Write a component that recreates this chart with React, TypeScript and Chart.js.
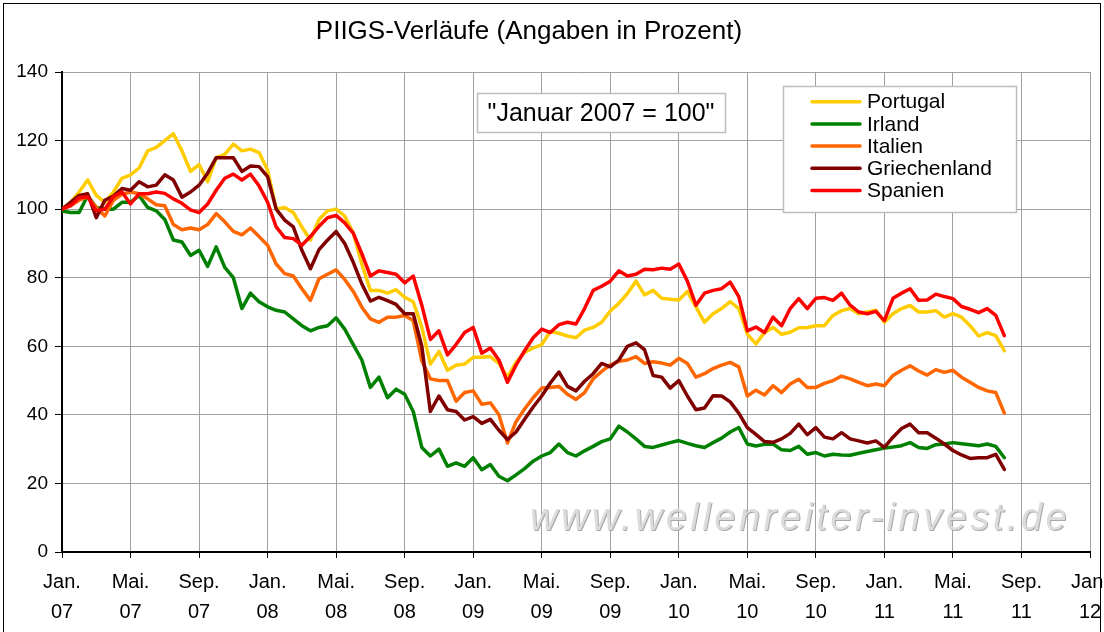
import React, { useEffect, useRef } from "react";
import { Chart, registerables } from "chart.js";

Chart.register(...registerables);

const FONT = '"Liberation Sans", Arial, Helvetica, sans-serif';

// Semi-monthly samples starting January 2007 (index 0 = Jan 2007 = 100)
const portugal: number[] = [
  100, 102, 105, 108.5, 104, 102, 105, 109, 110, 112,
  117, 118, 120, 122, 117, 111, 113, 108, 115, 116,
  119, 117, 117.5, 116.5, 111.4, 100, 100.5, 99, 94.8, 91,
  97, 99.5, 100, 98, 93, 84, 76.3, 76.3, 75.5, 76.5,
  74.3, 73, 65.6, 54.8, 58.5, 53, 54.5, 54.8, 56.8, 56.8,
  57, 55, 51, 55.3, 58.2, 59.5, 60.5, 64.3, 63.8, 63,
  62.5, 64.7, 65.5, 67, 70.3, 72.5, 75.4, 79, 75, 76.3,
  74, 73.7, 73.5, 76, 71.5, 67, 69.5, 71, 73, 71,
  63.5, 60.7, 64, 65.5, 63.5, 64.1, 65.4, 65.5, 66, 66,
  69, 70.4, 71, 69.5, 70, 70.5, 67, 69.5, 71, 71.9,
  70, 70, 70.4, 68.5, 69.5, 68.5, 66, 63, 64, 63.1,
  58.7,
];

const irland: number[] = [
  99.5, 99, 99, 104, 100.5, 100, 100, 102, 102, 104,
  100.5, 99.5, 97, 91, 90.4, 86.5, 88, 83.3, 89, 83,
  80, 71, 75.5, 73, 71.5, 70.5, 70, 68, 66, 64.5,
  65.5, 66, 68.3, 65, 60.5, 56, 48, 51, 45, 47.5,
  46, 41, 30.5, 28, 30, 25, 26, 25, 27.5, 24,
  25.5, 22.1, 20.8, 22.5, 24.3, 26.5, 28, 29, 31.5, 29,
  28, 29.5, 30.8, 32.2, 33, 36.7, 35, 33, 30.8, 30.5,
  31.2, 31.9, 32.5, 31.7, 31, 30.5, 31.9, 33.2, 35, 36.3,
  31.5, 30.9, 31.4, 31.5, 29.8, 29.6, 30.8, 28.5, 29, 28,
  28.5, 28.3, 28.2, 28.8, 29.3, 29.8, 30.3, 30.6, 31, 31.9,
  30.5, 30.2, 31.3, 31.5, 31.9, 31.6, 31.3, 31, 31.5, 30.8,
  27.5,
];

const italien: number[] = [
  100, 101, 102.6, 103.6, 100.5, 98, 102.6, 104.3, 105, 104.5,
  103, 101.3, 101, 95.5, 94, 94.5, 94, 95.5, 98.7, 96.3,
  93.5, 92.5, 94.5, 92, 89.5, 84, 81.2, 80.5, 76.8, 73.4,
  79.7, 81, 82.3, 79.5, 76, 71.4, 68, 67, 68.5, 68.5,
  69, 67.5, 55.8, 50.5, 50, 50, 44, 46.5, 47, 43.1,
  43.5, 40, 31.8, 38, 41.7, 45, 47.8, 48, 48.3, 46,
  44.5, 46.5, 50.5, 52.7, 54.6, 55.6, 56, 57, 55, 55.5,
  55.1, 54.5, 56.5, 55, 51, 52, 53.5, 54.5, 55.3, 54,
  45.5, 47.2, 45.8, 48.5, 46.5, 49, 50.4, 48, 48, 49.2,
  50, 51.3, 50.5, 49.5, 48.5, 49, 48.5, 51.5, 53, 54.3,
  52.8, 51.6, 53.2, 52.4, 53, 51, 49.5, 48, 47, 46.5,
  40.5,
];

const griechenland: number[] = [
  100, 102, 104, 104.5, 97.5, 102.6, 103.8, 106, 105.5, 108,
  106.5, 107, 110, 108.5, 103.5, 105, 107, 110.5, 115, 115,
  115, 111, 112.6, 112.4, 109.5, 100, 96.8, 94.8, 88, 82.6,
  88.2, 91, 93.5, 90, 84.5, 78.2, 73.2, 74.3, 73.3, 72.2,
  69.5, 69.5, 60, 41, 45.5, 41.5, 41, 38.5, 39.5, 37.5,
  38.7, 35.5, 32.8, 35, 38.7, 42.3, 45.5, 49.3, 52.5, 48.3,
  47, 49.8, 52, 55, 54, 56, 60, 61, 59, 51.5,
  51, 47.8, 50, 45.5, 41.5, 42, 45.6, 45.5, 43.8, 40.5,
  36.3, 34.3, 32.2, 32, 33, 34.6, 37.3, 34.2, 36.3, 33.5,
  33, 34.8, 33, 32.4, 31.8, 32.4, 30.5, 33.5, 36, 37.3,
  34.8, 34.8, 33.2, 31.5, 29.6, 28.3, 27.3, 27.5, 27.5, 28.5,
  24.1,
];

const spanien: number[] = [
  100, 101, 103.3, 103.6, 99.5, 100, 103.6, 105, 101.5, 104.5,
  104.5, 105, 104.6, 103, 101.7, 99.8, 99, 101.5, 105.5, 109,
  110.2, 108.5, 110.2, 106.8, 102, 94.8, 91.7, 91.4, 89.5, 92,
  95, 97.5, 98.2, 96, 93, 87, 80.5, 82, 81.5, 81,
  78.5, 80.5, 72, 62, 64.5, 57.5, 60.5, 64, 65.5, 58,
  59.5, 56, 49.5, 54.5, 58.7, 62.5, 65, 64, 66.3, 67,
  66.5, 71, 76.3, 77.5, 79, 82, 80.5, 81, 82.5, 82.3,
  82.8, 82.5, 84, 79, 72, 75.5, 76.3, 76.8, 78.7, 74.5,
  64.5, 65.6, 64, 68.5, 66, 71, 73.9, 71, 74, 74.2,
  73.4, 75.5, 72, 70, 69.5, 70.2, 67.5, 74, 75.5, 76.8,
  73.4, 73.5, 75.2, 74.5, 73.9, 71.6, 70.8, 69.8, 71, 69,
  63.1,
];

// months since January 2007 for each sample (two samples per month)
const sampleMonths: number[] = portugal.map((_, i) => i / 2);

const seriesNames = ["Portugal", "Irland", "Italien", "Griechenland", "Spanien"];
const seriesValues = [portugal, irland, italien, griechenland, spanien];
const seriesColors = ["#FFCC00", "#008000", "#FF6600", "#800000", "#FF0000"];

const tickLabels: string[][] = [
  ["Jan.", "07"], ["Mai.", "07"], ["Sep.", "07"],
  ["Jan.", "08"], ["Mai.", "08"], ["Sep.", "08"],
  ["Jan.", "09"], ["Mai.", "09"], ["Sep.", "09"],
  ["Jan.", "10"], ["Mai.", "10"], ["Sep.", "10"],
  ["Jan.", "11"], ["Mai.", "11"], ["Sep.", "11"],
  ["Jan.", "12"],
];

const TITLE = "PIIGS-Verläufe (Angaben in Prozent)";
const NOTE = '"Januar 2007 = 100"';
const WATERMARK = "www.wellenreiter-invest.de";

const decorPlugin = {
  id: "decor",
  beforeDraw(chart: any) {
    const ctx = chart.ctx;
    ctx.save();
    ctx.fillStyle = "#ffffff";
    ctx.fillRect(0, 0, chart.width, chart.height);
    ctx.restore();
  },
  beforeDatasetsDraw(chart: any) {
    const ctx = chart.ctx;
    ctx.save();
    ctx.font = `italic 38px ${FONT}`;
    ctx.textBaseline = "alphabetic";
    ctx.textAlign = "left";
    try { (ctx as any).letterSpacing = "3.5px"; } catch (e) {}
    ctx.fillStyle = "#a8a8a8";
    ctx.fillText(WATERMARK, 531, 531);
    ctx.fillStyle = "#dcdcdc";
    ctx.fillText(WATERMARK, 530, 530);
    ctx.restore();
  },
  afterDraw(chart: any) {
    const ctx = chart.ctx;
    ctx.save();
    // outer frame
    ctx.strokeStyle = "#000";
    ctx.lineWidth = 1;
    ctx.strokeRect(3.5, 3.5, 1097, 660);

    // title
    ctx.fillStyle = "#000";
    ctx.font = `26px ${FONT}`;
    ctx.textAlign = "center";
    ctx.textBaseline = "middle";
    ctx.fillText(TITLE, 529, 32);

    // note box
    ctx.fillStyle = "#fff";
    ctx.fillRect(477, 93, 249, 40);
    ctx.strokeStyle = "#bdbdbd";
    ctx.lineWidth = 1.5;
    ctx.strokeRect(477.5, 93.5, 248, 39);
    ctx.fillStyle = "#000";
    ctx.font = `25px ${FONT}`;
    ctx.textAlign = "center";
    ctx.fillText(NOTE, 601, 114);

    // legend box
    ctx.fillStyle = "#fff";
    ctx.fillRect(783, 86, 234, 127);
    ctx.strokeStyle = "#bdbdbd";
    ctx.strokeRect(783.5, 86.5, 233, 126);
    ctx.font = `21px ${FONT}`;
    ctx.textAlign = "left";
    ctx.textBaseline = "middle";
    seriesNames.forEach((name, i) => {
      const y = 101.7 + i * 22.2;
      ctx.strokeStyle = seriesColors[i];
      ctx.lineWidth = 3.5;
      ctx.lineCap = "round";
      ctx.beginPath();
      ctx.moveTo(812, y);
      ctx.lineTo(860, y);
      ctx.stroke();
      ctx.fillStyle = "#000";
      ctx.fillText(name, 867, y + 1);
    });
    ctx.restore();
  },
};

export default function App() {
  const canvasRef = useRef<HTMLCanvasElement | null>(null);

  useEffect(() => {
    if (!canvasRef.current) return;
    const datasets = seriesNames.map((name, i) => ({
      label: name,
      data: sampleMonths.map((m, j) => ({ x: m, y: seriesValues[i][j] })),
      borderColor: seriesColors[i],
      backgroundColor: seriesColors[i],
      borderWidth: 3.5,
      pointRadius: 0,
      tension: 0,
      borderJoinStyle: "round" as const,
      borderCapStyle: "round" as const,
      order: seriesNames.length - i,
    }));

    const chart = new Chart(canvasRef.current, {
      type: "line",
      data: { datasets },
      options: {
        responsive: false,
        animation: false,
        devicePixelRatio: 1,
        layout: { padding: { top: 72, right: 14, left: 0, bottom: 0 } },
        plugins: {
          legend: { display: false },
          title: { display: false },
          tooltip: { enabled: false },
        },
        scales: {
          x: {
            type: "linear",
            min: 0,
            max: 60,
            afterFit: (s: any) => {
              s.height = 80;
              s.paddingLeft = 0;
              s.paddingRight = 0;
            },
            grid: {
              color: "#a0a0a0",
              lineWidth: 1,
              tickColor: "#000",
              tickLength: 6,
            },
            border: { color: "#000", width: 2 },
            ticks: {
              stepSize: 4,
              autoSkip: false,
              maxRotation: 0,
              minRotation: 0,
              padding: 9,
              color: "#000",
              font: { family: FONT, size: 20, lineHeight: 1.5 },
              callback: (v: any) => tickLabels[Math.round(Number(v) / 4)] ?? "",
            },
          },
          y: {
            min: 0,
            max: 140,
            afterFit: (s: any) => {
              s.width = 62;
            },
            grid: {
              color: "#a0a0a0",
              lineWidth: 1,
              tickColor: "#000",
              tickLength: 7,
            },
            border: { color: "#000", width: 2 },
            ticks: {
              stepSize: 20,
              padding: 7,
              color: "#000",
              font: { family: FONT, size: 19 },
            },
          },
        },
      },
      plugins: [decorPlugin],
    });
    return () => chart.destroy();
  }, []);

  return (
    <div style={{ position: "absolute", left: 0, top: 0, width: 1104, height: 632, overflow: "hidden", background: "#fff" }}>
      <canvas ref={canvasRef} width={1104} height={632} style={{ display: "block" }} />
    </div>
  );
}
